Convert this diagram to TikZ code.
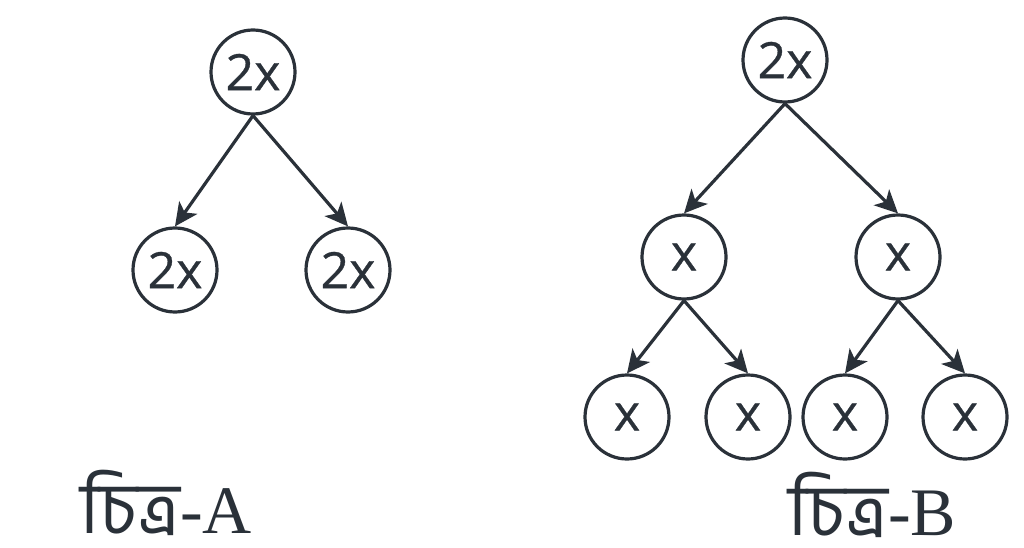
\documentclass[tikz,border=0pt]{standalone}
\usepackage{fontspec}
\setmainfont{Liberation Serif}
\newfontfamily\valfont[FakeBold=0.6]{Open Sans}
\newfontfamily\bnfont[Script=Bengali]{Hind Siliguri}
\usetikzlibrary{arrows.meta}
\definecolor{ink}{RGB}{42,49,57}
\tikzset{
  val/.style={circle, draw=ink, line width=3.2pt, minimum size=84pt, inner sep=0pt,
    text=ink, font=\valfont\fontsize{50}{56}\selectfont},
  edge/.style={draw=ink, line width=3.2pt, -{Stealth[length=23pt,width=22pt,inset=6pt]}},
  figcap/.style={text=ink, anchor=base west, inner sep=0pt, font=\fontsize{68}{80}\selectfont}
}
\begin{document}
\begin{tikzpicture}[x=1pt,y=-1pt]
  \useasboundingbox (0,0) rectangle (1024,548);
  % figure A
  \node [val] (a) at (253,72) {2x};
  \node [val] (al) at (175,270) {2x};
  \node [val] (ar) at (348,270) {2x};
  \draw [edge] (a.south) -- (al.north);
  \draw [edge] (a.south) -- (ar.north);
  \node [figcap] (capa) at (80,533) {{\bnfont\fontsize{72}{80}\selectfont চিত্র}-A};
  % figure B
  \node [val] (b) at (785,60) {2x};
  \node [val] (bl) at (684,257) {x};
  \node [val] (br) at (898,257) {x};
  \node [val] (bll) at (627,417) {x};
  \node [val] (blr) at (748,417) {x};
  \node [val] (brl) at (845,417) {x};
  \node [val] (brr) at (965,417) {x};
  \draw [edge] (b.south) -- (bl.north);
  \draw [edge] (b.south) -- (br.north);
  \draw [edge] (bl.south) -- (bll.north);
  \draw [edge] (bl.south) -- (blr.north);
  \draw [edge] (br.south) -- (brl.north);
  \draw [edge] (br.south) -- (brr.north);
  \node [figcap] (capb) at (788,535) {{\bnfont\fontsize{72}{80}\selectfont চিত্র}-B};
\end{tikzpicture}
\end{document}
